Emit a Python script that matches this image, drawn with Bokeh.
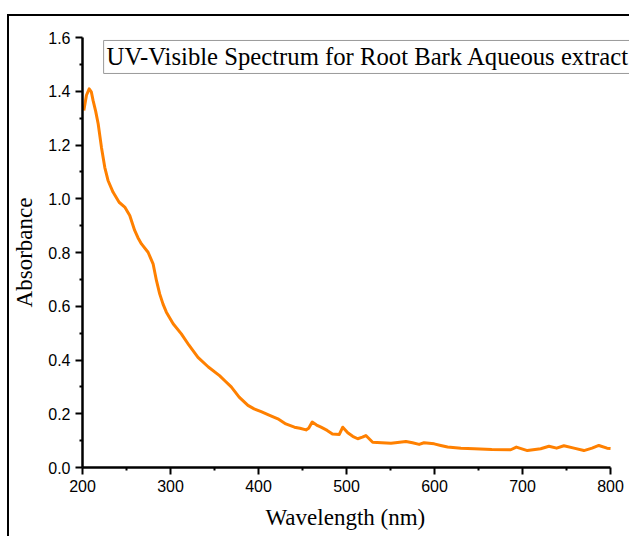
from bokeh.plotting import figure
from bokeh.models import Label, Range1d, FixedTicker, Title
from bokeh.embed import file_html
from bokeh.resources import INLINE

wavelength = [201.5, 204.5, 207.6, 210, 212, 215, 217.8, 221.5, 225.3, 229, 234.8, 241.6, 248,
              253.7, 259.3, 263, 267, 274.5, 280.2, 284, 287.7, 291.5, 295.3, 303, 312.3, 321,
              331.2, 343, 355.7, 362, 369, 378, 388, 395, 403, 412, 422, 431, 440.8, 447, 454,
              457, 461, 466, 471, 478, 484, 491.8, 495.7, 501.4, 507, 512.7, 518, 522, 529.7,
              540, 550.5, 558, 567.5, 575, 582.5, 588, 599.6, 607, 614.8, 630, 645, 665, 686.6,
              693, 705.5, 720.6, 730, 738.7, 747, 758.4, 769.7, 779, 786.7, 796, 800]
absorbance = [1.328, 1.385, 1.409, 1.398, 1.366, 1.325, 1.279, 1.192, 1.117, 1.068, 1.024, 0.987,
              0.969, 0.938, 0.882, 0.855, 0.832, 0.801, 0.758, 0.696, 0.646, 0.608, 0.578, 0.535,
              0.497, 0.455, 0.410, 0.374, 0.342, 0.322, 0.300, 0.262, 0.231, 0.218, 0.208, 0.195,
              0.181, 0.162, 0.150, 0.146, 0.140, 0.146, 0.169, 0.158, 0.150, 0.138, 0.125, 0.123,
              0.150, 0.129, 0.116, 0.107, 0.113, 0.119, 0.094, 0.092, 0.090, 0.093, 0.097, 0.092,
              0.086, 0.092, 0.088, 0.082, 0.076, 0.072, 0.070, 0.067, 0.066, 0.076, 0.063, 0.070,
              0.079, 0.072, 0.081, 0.072, 0.063, 0.072, 0.082, 0.072, 0.071]

x_ticks = [200, 300, 400, 500, 600, 700, 800]
y_ticks = [0.0, 0.2, 0.4, 0.6, 0.8, 1.0, 1.2, 1.4, 1.6]
title_text = "UV-Visible Spectrum for Root Bark Aqueous extract"
x_label = "Wavelength (nm)"
y_label = "Absorbance"

# frame runs to the right edge of the page so the caption box is not clipped;
# the x axis itself is bounded to 200..800
p = figure(width=622, height=522, output_backend="svg", toolbar_location=None,
           x_range=Range1d(200, 823.8), y_range=Range1d(0, 1.6),
           min_border_left=72, min_border_right=0, min_border_top=21, min_border_bottom=71,
           margin=(14, 0, 0, 7))
p.styles = {"border-left": "2px solid black", "border-top": "2px solid black"}
p.outline_line_color = None
p.grid.visible = False
p.background_fill_color = "white"
p.border_fill_color = "white"

p.line(wavelength, absorbance, line_color="#FF8000", line_width=3, line_join="round")

for ax in (p.xaxis[0], p.yaxis[0]):
    ax.axis_line_width = 2.5
    ax.axis_line_color = "black"
    ax.major_tick_line_width = 2
    ax.minor_tick_line_width = 2
    ax.major_tick_out = 7
    ax.major_tick_in = 0
    ax.minor_tick_out = 3
    ax.minor_tick_in = 0
    ax.major_label_text_font = "Liberation Sans"
    ax.major_label_text_font_size = "16px"
    ax.major_label_text_color = "black"
    ax.axis_label_text_font = "Liberation Serif"
    ax.axis_label_text_font_size = "23px"
    ax.axis_label_text_font_style = "normal"
    ax.axis_label_text_color = "black"

p.xaxis[0].bounds = (200, 800)
p.xaxis[0].ticker = FixedTicker(ticks=x_ticks, minor_ticks=[250, 350, 450, 550, 650, 750])
p.yaxis[0].ticker = FixedTicker(ticks=y_ticks, minor_ticks=[0.1, 0.3, 0.5, 0.7, 0.9, 1.1, 1.3, 1.5])
p.xaxis[0].major_label_overrides = {v: str(v) for v in x_ticks}
p.yaxis[0].major_label_overrides = {v: f"{v:.1f}" for v in y_ticks}
p.yaxis[0].axis_label = y_label
p.yaxis[0].axis_label_standoff = 8

# x-axis caption centred under the 200..800 span (not under the widened frame)
xt = Title(text=x_label, align="left", offset=183, standoff=17,
           text_font="Liberation Serif", text_font_size="23px",
           text_font_style="normal", text_color="black")
p.add_layout(xt, "below")

lab = Label(x=224, y=1.589, text=title_text, text_font="Liberation Serif",
            text_font_size="24.7px", text_color="black", text_baseline="top", text_align="left",
            border_line_color="#999999", border_line_width=1, background_fill_color="white",
            padding=3)
p.add_layout(lab)

open("out.html", "w").write(file_html(p, INLINE))
